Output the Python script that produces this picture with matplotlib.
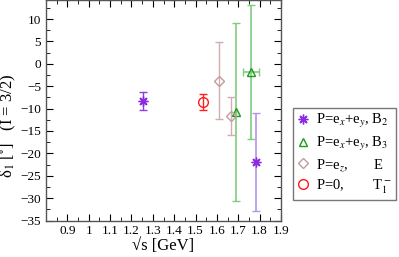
import matplotlib
matplotlib.use('Agg')
import matplotlib.pyplot as plt
from matplotlib.ticker import MultipleLocator

plt.rcParams['font.family'] = ['Liberation Serif', 'DejaVu Serif']
plt.rcParams['mathtext.fontset'] = 'stix'

# P=ex+ey, B2
b2_x = [1.256, 1.783]
b2_y = [-8.3, -22.0]
b2_err = [2.0, 10.9]

# P=ex+ey, B3
b3_x = [1.689, 1.759]
b3_y = [-10.7, -1.8]
b3_err = [19.9, 14.9]
b3_xerr = [0.0, 0.037]

# P=ez, E
e_x = [1.61, 1.668]
e_y = [-3.8, -11.7]
e_err = [8.6, 4.3]

# P=0, T1-
t1_x = [1.534]
t1_y = [-8.55]
t1_err = [1.75]

fig = plt.figure(figsize=(3.99, 2.57), dpi=100)
ax = fig.add_axes([0.1153, 0.142, 0.589, 0.858])

# errorbars (drawn lighter than the markers in a few cases)
ax.errorbar(b2_x[:1], b2_y[:1], yerr=b2_err[:1], fmt='none', ecolor='#8a3ee0',
            elinewidth=1.0, capsize=3)
ax.errorbar(b2_x[1:], b2_y[1:], yerr=b2_err[1:], fmt='none', ecolor='#b594e6',
            elinewidth=1.2, capsize=3)
ax.errorbar(b3_x, b3_y, yerr=b3_err, xerr=b3_xerr, fmt='none', ecolor='#7fcc7f',
            elinewidth=1.2, capsize=3)
ax.errorbar(e_x, e_y, yerr=e_err, fmt='none', ecolor='#d0aeae',
            elinewidth=1.0, capsize=3)
ax.errorbar(t1_x, t1_y, yerr=t1_err, fmt='none', ecolor='#ff2020',
            elinewidth=1.0, capsize=3)

ax.plot(b2_x, b2_y, ls='none', marker=(8, 2, 0), ms=7, mew=1.0, color='#8a2be2',
        label=r'P=e$_x$+e$_y$, B$_2$')
ax.plot(b3_x, b3_y, ls='none', marker='^', ms=6, mfc='none', mew=1.0, color='#1c9a1c',
        label=r'P=e$_x$+e$_y$, B$_3$')
ax.plot(e_x, e_y, ls='none', marker='D', ms=5, mfc='none', mew=1.0, color='#c39c9c',
        label=r'P=e$_z$,       E')
ax.plot(t1_x, t1_y, ls='none', marker='o', ms=7, mfc='none', mew=1.0, color='#ff1a1a',
        label=r'P=0,        T$_1^-$')

ax.set_xlim(0.8, 1.9)
ax.set_ylim(-35, 14.25)
ax.xaxis.set_major_locator(MultipleLocator(0.1))
ax.xaxis.set_minor_locator(MultipleLocator(0.05))
ax.yaxis.set_major_locator(MultipleLocator(5))
ax.yaxis.set_minor_locator(MultipleLocator(2.5))
ax.tick_params(which='both', direction='in', top=True, right=True, labelsize=9.5)
ax.tick_params(which='major', length=5)
ax.tick_params(which='minor', length=3)
ax.set_xticks([0.9, 1.0, 1.1, 1.2, 1.3, 1.4, 1.5, 1.6, 1.7, 1.8, 1.9])
ax.set_xticklabels(['0.9', '1', '1.1', '1.2', '1.3', '1.4', '1.5', '1.6', '1.7', '1.8', '1.9'])
ax.xaxis.set_tick_params(pad=3)
ax.set_xlabel('\u221as [GeV]', fontsize=12, labelpad=1)
ax.set_ylabel('\u03b4$_1$ [$^{\\circ}$]   (I = 3/2)', fontsize=12)
ax.yaxis.set_label_coords(-0.118, 0.43)
for s in ax.spines.values():
    s.set_linewidth(1.0)
    s.set_color('#555555')

leg = ax.legend(loc='upper left', bbox_to_anchor=(1.05, 0.51), fontsize=10.5,
                frameon=True, fancybox=False, edgecolor='#555555',
                handlelength=0.8, handletextpad=0.5, borderpad=0.3,
                labelspacing=0.3, borderaxespad=0)
leg.get_frame().set_linewidth(1.0)

fig.savefig('out.png', dpi=100)
